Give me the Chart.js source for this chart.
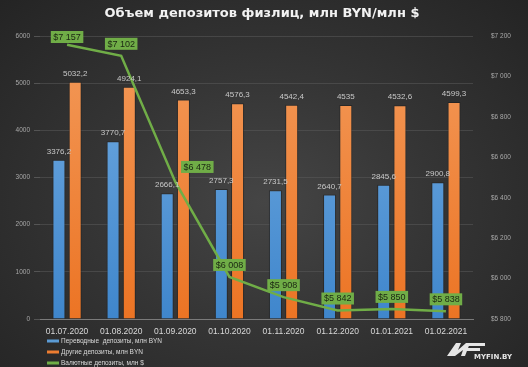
<!DOCTYPE html>
<html lang="ru">
<head>
<meta charset="UTF-8" />
<title>Объем депозитов физлиц</title>
<script src="https://cdn.jsdelivr.net/npm/chart.js"></script>
<style>
  html, body { margin: 0; padding: 0; }
  #wrap {
    width: 528px; height: 367px;
    background: radial-gradient(ellipse at 50% 55%, #454545 0%, #353535 45%, #242424 100%);
  }
</style>
</head>
<body>
<div id="wrap"><canvas id="chart" width="528" height="367"></canvas></div>
<script>
// data
const categories = ["01.07.2020", "01.08.2020", "01.09.2020", "01.10.2020",
                    "01.11.2020", "01.12.2020", "01.01.2021", "01.02.2021"];
const transferDeposits = [3376.2, 3770.7, 2666.1, 2757.3, 2731.5, 2640.7, 2845.6, 2900.8];
const otherDeposits = [5032.2, 4924.1, 4653.3, 4576.3, 4542.4, 4535, 4532.6, 4599.3];
const currencyDeposits = [7157, 7102, 6478, 6008, 5908, 5842, 5850, 5838];
const seriesNames = ["Переводные  депозиты, млн BYN", "Другие депозиты, млн BYN", "Валютные депозиты, млн $"];

const BLUE = "#5b9bd5", ORANGE = "#ed7d31", GREEN = "#70ad47";
const FONT = "'Liberation Sans', Arial, sans-serif";

function gradient(ctx, area, top, bottom) {
    const g = ctx.createLinearGradient(0, area.top, 0, area.bottom);
    g.addColorStop(0, top);
    g.addColorStop(1, bottom);
    return g;
}

function fmtComma(v) { return String(v).replace(".", ","); }
function fmtUsd(v) { return "$" + String(v).replace(/\B(?=(\d{3})+(?!\d))/g, " "); }

// title, value labels, legend and logo
const decor = {
    id: "decor",
    afterDatasetsDraw(chart) {
        const ctx = chart.ctx;
        ctx.save();
        // bar value labels
        ctx.font = "8px " + FONT;
        ctx.fillStyle = "#c8c8c8";
        ctx.textAlign = "center";
        ctx.textBaseline = "bottom";
        [0, 1].forEach((di) => {
            chart.getDatasetMeta(di).data.forEach((bar, i) => {
                ctx.fillText(fmtComma(chart.data.datasets[di].data[i]), bar.x, bar.y - 4);
            });
        });
        // line labels (green boxes)
        const meta = chart.getDatasetMeta(2);
        meta.data.forEach((pt, i) => {
            const txt = fmtUsd(currencyDeposits[i]);
            ctx.font = "9px " + FONT;
            const w = ctx.measureText(txt).width + 5;
            const h = 12;
            let cx = pt.x, cy = Math.max(pt.y - 12, chart.chartArea.top + 1);
            // the steep drop: label moved right of the line
            if (i > 0 && i < meta.data.length - 1 &&
                currencyDeposits[i - 1] - currencyDeposits[i] > 300 &&
                currencyDeposits[i] - currencyDeposits[i + 1] > 300) {
                cx = pt.x + 22; cy = pt.y - 15;
            }
            ctx.fillStyle = GREEN;
            ctx.fillRect(cx - w / 2, cy - h / 2, w, h);
            ctx.fillStyle = "#1b2612";
            ctx.textBaseline = "middle";
            ctx.fillText(txt, cx, cy + 0.5);
        });
        ctx.restore();
    },
    afterDraw(chart) {
        const ctx = chart.ctx;
        ctx.save();
        // title
        ctx.font = "bold 13px 'DejaVu Sans', sans-serif";
        ctx.fillStyle = "#f2f2f2";
        ctx.textAlign = "center";
        ctx.textBaseline = "middle";
        ctx.fillText("Объем депозитов физлиц, млн BYN/млн $", 262, 14);
        // legend
        ctx.font = "6.5px " + FONT;
        ctx.textAlign = "left";
        const colors = [BLUE, ORANGE, GREEN];
        seriesNames.forEach((name, i) => {
            const y = 341 + i * 11;
            ctx.fillStyle = colors[i];
            ctx.fillRect(47, y - 1.5, 12, 3);
            ctx.fillStyle = "#d9d9d9";
            ctx.fillText(name, 61, y);
        });
        // logo
        ctx.fillStyle = "#e6e6e6";
        ctx.beginPath();
        ctx.moveTo(447, 356); ctx.lineTo(456, 343); ctx.lineTo(461, 343); ctx.lineTo(458, 350);
        ctx.lineTo(466, 343); ctx.lineTo(470, 343); ctx.lineTo(465, 356); ctx.lineTo(461, 356);
        ctx.lineTo(463, 350); ctx.lineTo(455, 356); ctx.closePath(); ctx.fill();
        ctx.fillRect(468, 343, 17, 3);
        ctx.fillRect(466, 348, 14, 3);
        ctx.font = "bold 7px 'DejaVu Sans', sans-serif";
        ctx.fillText("MYFIN.BY", 474, 357);
        ctx.restore();
    }
};

const config = {
    data: {
        labels: categories,
        datasets: [
            {
                type: "bar",
                label: seriesNames[0],
                data: transferDeposits,
                yAxisID: "y",
                backgroundColor: (c) => c.chart.chartArea
                    ? gradient(c.chart.ctx, c.chart.chartArea, "#74ade2", "#3f86cc") : BLUE,
                borderColor: "rgba(30,30,30,0.6)",
                borderWidth: 1,
                categoryPercentage: 0.6,
                barPercentage: 0.8,
                order: 2,
            },
            {
                type: "bar",
                label: seriesNames[1],
                data: otherDeposits,
                yAxisID: "y",
                backgroundColor: (c) => c.chart.chartArea
                    ? gradient(c.chart.ctx, c.chart.chartArea, "#f39a5a", "#ec7424") : ORANGE,
                borderColor: "rgba(30,30,30,0.6)",
                borderWidth: 1,
                categoryPercentage: 0.6,
                barPercentage: 0.8,
                order: 2,
            },
            {
                type: "line",
                label: seriesNames[2],
                data: currencyDeposits,
                yAxisID: "y1",
                borderColor: GREEN,
                borderWidth: 2.5,
                pointRadius: 0,
                tension: 0,
                order: 1,
            },
        ],
    },
    options: {
        responsive: false,
        animation: false,
        layout: { padding: { top: 36, bottom: 0, left: 0, right: 0 } },
        plugins: {
            legend: { display: false },
            title: { display: false },
            tooltip: { enabled: false },
        },
        scales: {
            x: {
                grid: { display: false },
                border: { color: "#7a7a7a", width: 1 },
                ticks: { color: "#d9d9d9", font: { family: FONT, size: 8.5 }, padding: 0, maxRotation: 0 },
                afterFit(s) { s.height = 48; },
            },
            y: {
                position: "left",
                min: 0, max: 6000,
                grid: { color: "rgba(90,90,90,0.55)", tickLength: 6, tickColor: "rgba(110,110,110,0.6)" },
                border: { display: false },
                ticks: {
                    stepSize: 1000, color: "#a8a8a8", font: { family: FONT, size: 6.5 }, padding: 4,
                    callback: (v) => String(v),
                },
                afterFit(s) { s.width = 40; },
            },
            y1: {
                position: "right",
                min: 5800, max: 7200,
                grid: { display: false },
                border: { display: false },
                ticks: {
                    stepSize: 200, color: "#a8a8a8", font: { family: FONT, size: 6.5 }, padding: 10,
                    callback: (v) => fmtUsd(v),
                },
                afterFit(s) { s.width = 55; },
            },
        },
    },
    plugins: [decor],
};

new Chart(document.getElementById("chart").getContext("2d"), config);
</script>
</body>
</html>
